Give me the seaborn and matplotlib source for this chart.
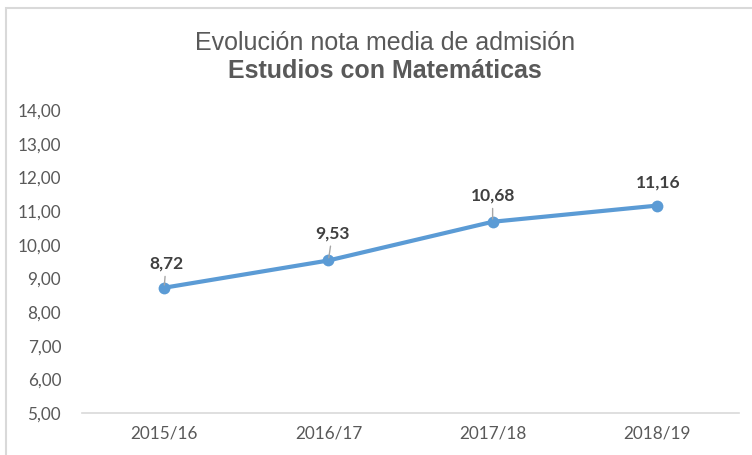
import matplotlib
matplotlib.use("Agg")
import matplotlib.pyplot as plt
import seaborn as sns
import pandas as pd
from matplotlib.patches import Rectangle

categories = ["2015/16", "2016/17", "2017/18", "2018/19"]
values = [8.72, 9.53, 10.68, 11.16]
yticks = [5, 6, 7, 8, 9, 10, 11, 12, 13, 14]
title_line1 = "Evolución nota media de admisión"
title_line2 = "Estudios con Matemáticas"

sns.set_style("white")
plt.rcParams['font.family'] = ['Lato', 'DejaVu Sans']

df = pd.DataFrame({"curso": categories, "nota": values})

fig = plt.figure(figsize=(7.52, 4.55), dpi=100)
ax = fig.add_axes([82/752, 1-413/455, (739-82)/752, (413-110)/455])

sns.lineplot(data=df, x="curso", y="nota", ax=ax, color="#5B9BD5",
             linewidth=3.0, marker="o", markersize=8.5, markeredgewidth=0,
             sort=False)

ax.set_xlim(-0.5, 3.5)
ax.set_ylim(5, 14)
ax.set_yticks(yticks)
ax.set_yticklabels([f"{v:.2f}".replace(".", ",") for v in yticks])
ax.set_xlabel("")
ax.set_ylabel("")
ax.tick_params(axis="both", length=0, labelsize=12.3, labelcolor="#595959")
ax.tick_params(axis="y", pad=15)
ax.tick_params(axis="x", pad=9)
for s in ["top", "right", "left"]:
    ax.spines[s].set_visible(False)
ax.spines["bottom"].set_color("#D9D9D9")
ax.spines["bottom"].set_linewidth(1.2)
ax.grid(False)

# data labels (offset in px -> pt)
offsets = [(2, 24), (4, 27), (0, 26), (1, 23)]
leaders = [True, True, True, False]
for i, (v, (dx, dy), ld) in enumerate(zip(values, offsets, leaders)):
    ax.annotate(f"{v:.2f}".replace(".", ","), xy=(i, v),
                xytext=(dx*0.72, dy*0.72), textcoords="offset points",
                ha="center", va="center", fontsize=12.5, fontweight="bold",
                color="#404040",
                arrowprops=dict(arrowstyle="-", color="#A6A6A6", lw=1,
                                shrinkA=1, shrinkB=2) if ld else None)

fig.text(385/752, 1-43/455, title_line1, ha="center", va="center",
         fontsize=18, color="#595959", family=["Liberation Sans", "DejaVu Sans"])
fig.text(385/752, 1-71/455, title_line2, ha="center", va="center",
         fontsize=18, fontweight="bold", color="#595959",
         family=["Liberation Sans", "DejaVu Sans"])

fig.patches.append(Rectangle((6/752, -0.1), 1.2, 1.1 - 8/455,
                             transform=fig.transFigure, fill=False,
                             edgecolor="#D9D9D9", linewidth=1.5))

fig.savefig("out.png", dpi=100)
